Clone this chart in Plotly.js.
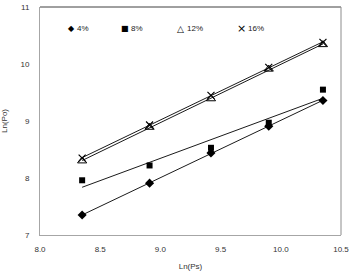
<!DOCTYPE html>
<html>
<head>
<meta charset="utf-8">
<script src="https://cdn.plot.ly/plotly-3.0.1.min.js"></script>
<style>html,body{margin:0;padding:0;background:#fff;}#chart{width:349px;height:276px;}</style>
</head>
<body>
<div id="chart"></div>
<script>
// Ln(Ps) values (x) and Ln(Po) values (y) for each series
const lnPs = [8.35, 8.91, 9.42, 9.90, 10.35];
const po4  = [7.35, 7.91, 8.44, 8.91, 9.36];
const po8  = [7.96, 8.22, 8.53, 8.97, 9.55];
const po12 = [8.30, 8.89, 9.39, 9.91, 10.34];
const po16 = [8.35, 8.93, 9.45, 9.94, 10.38];
const seriesNames = ['4%', '8%', '12%', '16%'];
const legendSymbols = ['\u25C6', '\u25A0', '\u25B3', '\u00D7'];
const xTicks = [8.0, 8.5, 9.0, 9.5, 10.0, 10.5];
const yTicks = [7, 8, 9, 10, 11];

function fit(xs, ys) {
  const n = xs.length;
  const mx = xs.reduce((a, b) => a + b, 0) / n;
  const my = ys.reduce((a, b) => a + b, 0) / n;
  let sxy = 0, sxx = 0;
  for (let i = 0; i < n; i++) { sxy += (xs[i] - mx) * (ys[i] - my); sxx += (xs[i] - mx) ** 2; }
  const b = sxy / sxx, a = my - b * mx;
  const x0 = Math.min(...xs), x1 = Math.max(...xs);
  return { x: [x0, x1], y: [a + b * x0, a + b * x1] };
}

const ys = [po4, po8, po12, po16];
const markers = [
  { symbol: 'diamond', size: 7, color: '#000' },
  { symbol: 'square', size: 6, color: '#000' },
  { symbol: 'triangle-up-open', size: 8, color: '#000', line: { width: 1, color: '#000' } },
  { symbol: 'x-thin-open', size: 7, color: '#000', line: { width: 1.2, color: '#000' } }
];

const traces = [];
ys.forEach((y, i) => {
  const f = fit(lnPs, y);
  traces.push({ x: f.x, y: f.y, mode: 'lines', line: { color: '#000', width: 0.9 }, showlegend: false, hoverinfo: 'skip' });
});
ys.forEach((y, i) => {
  traces.push({ x: lnPs, y: y, mode: 'markers', name: seriesNames[i], marker: markers[i], showlegend: false });
});

const legendFont = { family: 'Liberation Sans, Arial, sans-serif', size: 8, color: '#222' };
const symX = [0.103, 0.282, 0.468, 0.671];
const txtX = [0.117, 0.296, 0.482, 0.686];
const symSize = [8, 8, 9, 11];
const annotations = [];
seriesNames.forEach((n, i) => {
  annotations.push({
    xref: 'paper', yref: 'paper', x: symX[i], y: 0.904, xanchor: 'center', yanchor: 'middle',
    showarrow: false, text: legendSymbols[i],
    font: { family: 'DejaVu Sans, sans-serif', size: symSize[i], color: '#000' }
  });
  annotations.push({
    xref: 'paper', yref: 'paper', x: txtX[i], y: 0.904, xanchor: 'left', yanchor: 'middle',
    showarrow: false, text: n, font: legendFont
  });
});

const axisFont = { family: 'Liberation Sans, Arial, sans-serif', size: 8, color: '#333' };

const layout = {
  width: 349, height: 276,
  margin: { l: 40, r: 8, t: 7, b: 41, pad: 0 },
  paper_bgcolor: '#fff', plot_bgcolor: '#fff',
  showlegend: false,
  font: axisFont,
  xaxis: {
    range: [8.0, 10.5], tickvals: xTicks, ticktext: xTicks.map(v => v.toFixed(1)),
    showgrid: false, zeroline: false, showline: true, linecolor: '#a6a6a6', linewidth: 1,
    ticks: 'outside', ticklen: 6, tickcolor: 'rgba(0,0,0,0)', tickfont: axisFont,
    ticklabeloverflow: 'allow',
    title: { text: 'Ln(Ps)', font: axisFont, standoff: 10 }
  },
  yaxis: {
    range: [7, 11], tickvals: yTicks, ticktext: yTicks.map(String),
    showgrid: false, zeroline: false, showline: true, linecolor: '#a6a6a6', linewidth: 1,
    ticks: 'outside', ticklen: 8, tickcolor: 'rgba(0,0,0,0)', tickfont: axisFont,
    ticklabeloverflow: 'allow',
    title: { text: 'Ln(Po)', font: axisFont, standoff: 12 }
  },
  shapes: [
    { type: 'line', xref: 'paper', yref: 'paper', x0: 0, x1: 1, y0: 1, y1: 1, line: { color: '#404040', width: 1 } },
    { type: 'line', xref: 'paper', yref: 'paper', x0: 1, x1: 1, y0: 0, y1: 1, line: { color: '#8c8c8c', width: 1 } }
  ],
  annotations: annotations
};

Plotly.newPlot('chart', traces, layout, { displayModeBar: false, staticPlot: true });
</script>
</body>
</html>
